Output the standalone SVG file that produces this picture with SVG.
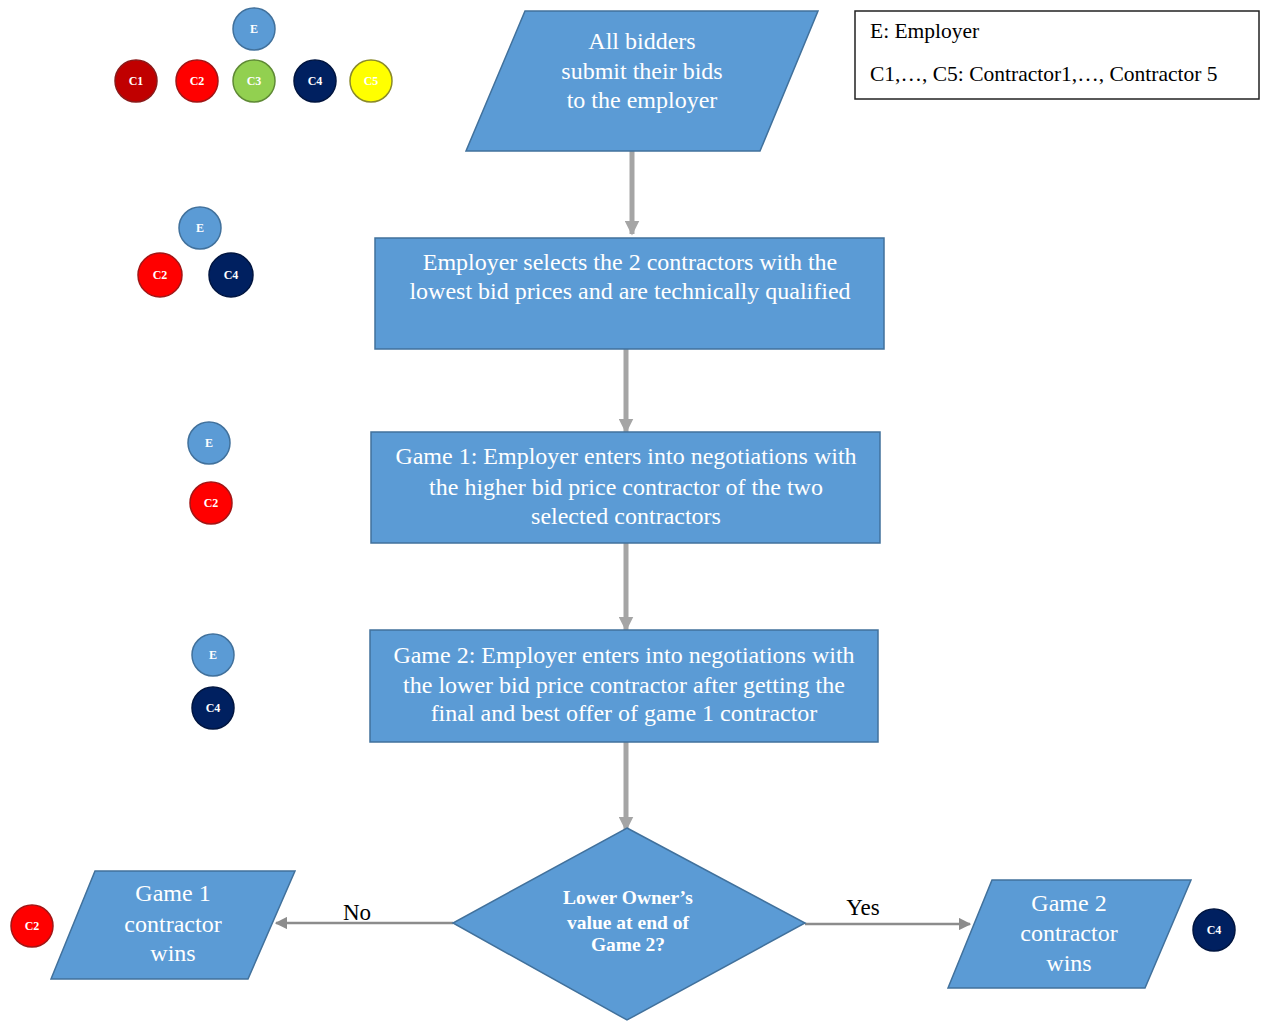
<svg xmlns="http://www.w3.org/2000/svg" width="1261" height="1021" viewBox="0 0 1261 1021">
<defs>
<style>
.shape{fill:#5B9BD5;stroke:#41719C;stroke-width:1.5}
.t{font-family:"Liberation Serif",serif;font-size:24px;fill:#fff;text-anchor:middle}
.tb{font-family:"Liberation Serif",serif;font-size:19.5px;font-weight:bold;fill:#fff;text-anchor:middle}
.lbl{font-family:"Liberation Serif",serif;font-size:23px;fill:#000;text-anchor:middle}
.leg{font-family:"Liberation Serif",serif;font-size:21.5px;fill:#000}
.c{font-family:"Liberation Serif",serif;font-size:12px;font-weight:bold;fill:#fff;text-anchor:middle}
.E{fill:#5B9BD5;stroke:#41719C;stroke-width:1.5}
.C1{fill:#C00000;stroke:#8B1A1A;stroke-width:1.5}
.C2{fill:#FF0000;stroke:#A31515;stroke-width:1.5}
.C3{fill:#92D050;stroke:#5F8A35;stroke-width:1.5}
.C4{fill:#002060;stroke:#001540;stroke-width:1.5}
.C5{fill:#FFFF00;stroke:#8A8A2A;stroke-width:1.5}
.conn{stroke:#A5A5A5;fill:none}
.thick{stroke-width:5}
.thin{stroke-width:2.5;stroke:#8C8C8C}
</style>
<marker id="ah" viewBox="0 0 10 10" refX="9" refY="5" markerWidth="3" markerHeight="3" orient="auto" markerUnits="strokeWidth">
<path d="M0,0 L10,5 L0,10 z" fill="#A5A5A5"/>
</marker>
<marker id="ah2" viewBox="0 0 10 10" refX="9" refY="5" markerWidth="5" markerHeight="5" orient="auto" markerUnits="strokeWidth">
<path d="M0,0 L10,5 L0,10 z" fill="#8C8C8C"/>
</marker>
</defs>
<rect width="1261" height="1021" fill="#fff"/>

<g id="connectors">
<line class="conn thick" x1="632" y1="151" x2="632" y2="234" marker-end="url(#ah)"/>
<line class="conn thick" x1="626" y1="349" x2="626" y2="432" marker-end="url(#ah)"/>
<line class="conn thick" x1="626" y1="543" x2="626" y2="630" marker-end="url(#ah)"/>
<line class="conn thick" x1="626" y1="742" x2="626" y2="830" marker-end="url(#ah)"/>
<line class="conn thin" x1="453" y1="923" x2="276" y2="923" marker-end="url(#ah2)"/>
<line class="conn thin" x1="805" y1="924" x2="970" y2="924" marker-end="url(#ah2)"/>
<text class="lbl" x="357" y="920">No</text>
<text class="lbl" x="863" y="915">Yes</text>
</g>

<g id="n1">
<polygon class="shape" points="525,11 818,11 760,151 466,151"/>
<text class="t" x="642" y="49">All bidders</text>
<text class="t" x="642" y="79">submit their bids</text>
<text class="t" x="642" y="108">to the employer</text>
</g>

<g id="n2">
<rect class="shape" x="375" y="238" width="509" height="111"/>
<text class="t" x="630" y="270">Employer selects the 2 contractors with the</text>
<text class="t" x="630" y="299">lowest bid prices and are technically qualified</text>
</g>

<g id="n3">
<rect class="shape" x="371" y="432" width="509" height="111"/>
<text class="t" x="626" y="464">Game 1: Employer enters into negotiations with</text>
<text class="t" x="626" y="495">the higher bid price contractor of the two</text>
<text class="t" x="626" y="524">selected contractors</text>
</g>

<g id="n4">
<rect class="shape" x="370" y="630" width="508" height="112"/>
<text class="t" x="624" y="663">Game 2: Employer enters into negotiations with</text>
<text class="t" x="624" y="693">the lower bid price contractor after getting the</text>
<text class="t" x="624" y="721">final and best offer of game 1 contractor</text>
</g>

<g id="n5">
<polygon class="shape" points="627,828 805,923 627,1020 453,923"/>
<text class="tb" x="628" y="904">Lower Owner’s</text>
<text class="tb" x="628" y="929">value at end of</text>
<text class="tb" x="628" y="951">Game 2?</text>
</g>

<g id="n6">
<polygon class="shape" points="95,871 295,871 248,979 51,979"/>
<text class="t" x="173" y="901">Game 1</text>
<text class="t" x="173" y="932">contractor</text>
<text class="t" x="173" y="961">wins</text>
</g>

<g id="n7">
<polygon class="shape" points="992,880 1191,880 1145,988 948,988"/>
<text class="t" x="1069" y="911">Game 2</text>
<text class="t" x="1069" y="941">contractor</text>
<text class="t" x="1069" y="971">wins</text>
</g>

<g id="legend">
<rect x="855" y="11" width="404" height="88" fill="#fff" stroke="#222" stroke-width="1.5"/>
<text class="leg" x="870" y="38">E: Employer</text>
<text class="leg" x="870" y="81">C1,…, C5: Contractor1,…, Contractor 5</text>
</g>

<g id="players1">
<circle class="E" cx="254" cy="29" r="21"/><text class="c" x="254" y="33">E</text>
<circle class="C1" cx="136" cy="81" r="21"/><text class="c" x="136" y="85">C1</text>
<circle class="C2" cx="197" cy="81" r="21"/><text class="c" x="197" y="85">C2</text>
<circle class="C3" cx="254" cy="81" r="21"/><text class="c" x="254" y="85">C3</text>
<circle class="C4" cx="315" cy="81" r="21"/><text class="c" x="315" y="85">C4</text>
<circle class="C5" cx="371" cy="81" r="21"/><text class="c" x="371" y="85">C5</text>
</g>
<g id="players2">
<circle class="E" cx="200" cy="228" r="21"/><text class="c" x="200" y="232">E</text>
<circle class="C2" cx="160" cy="275" r="22"/><text class="c" x="160" y="279">C2</text>
<circle class="C4" cx="231" cy="275" r="22"/><text class="c" x="231" y="279">C4</text>
</g>
<g id="players3">
<circle class="E" cx="209" cy="443" r="21"/><text class="c" x="209" y="447">E</text>
<circle class="C2" cx="211" cy="503" r="21"/><text class="c" x="211" y="507">C2</text>
</g>
<g id="players4">
<circle class="E" cx="213" cy="655" r="21"/><text class="c" x="213" y="659">E</text>
<circle class="C4" cx="213" cy="708" r="21"/><text class="c" x="213" y="712">C4</text>
</g>
<g id="winner1">
<circle class="C2" cx="32" cy="926" r="21"/><text class="c" x="32" y="930">C2</text>
</g>
<g id="winner2">
<circle class="C4" cx="1214" cy="930" r="21"/><text class="c" x="1214" y="934">C4</text>
</g>
</svg>
